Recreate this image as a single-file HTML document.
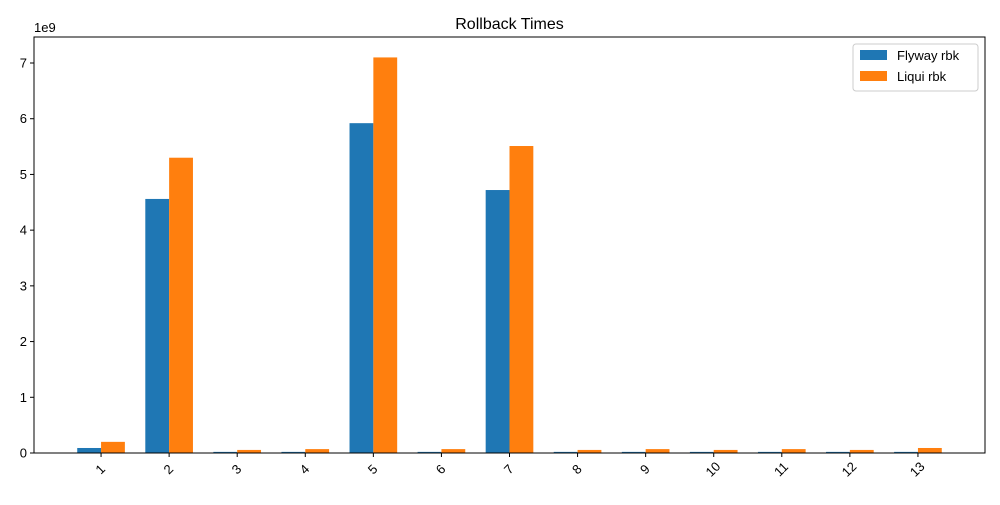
<!DOCTYPE html>
<html><head><meta charset="utf-8"><style>body{margin:0;background:#fff}svg{font-family:"Liberation Sans","DejaVu Sans",sans-serif}</style></head>
<body>
<svg id="chart" width="1000" height="500" xmlns="http://www.w3.org/2000/svg">
<rect width="1000" height="500" fill="#fff"/>
<text x="509.5" y="29" font-size="16" text-anchor="middle">Rollback Times</text>
<text x="34" y="32" font-size="13">1e9</text>
<g id="plot"></g>
<rect x="34" y="37" width="951" height="416" fill="none" stroke="#000" stroke-width="1"/>
<g>
<rect x="853" y="44" width="125" height="47" rx="3" fill="#fff" stroke="#ccc"/>
<rect x="860" y="50" width="27" height="10" fill="#1f77b4"/>
<text x="897" y="60" font-size="13">Flyway rbk</text>
<rect x="860" y="71" width="27" height="10" fill="#ff7f0e"/>
<text x="897" y="81" font-size="13">Liqui rbk</text>
</g>
</svg>
<script>
const categories=["1","2","3","4","5","6","7","8","9","10","11","12","13"];
const flyway=[0.09,4.56,0.02,0.02,5.92,0.02,4.72,0.02,0.02,0.02,0.02,0.02,0.02];
const liqui=[0.2,5.3,0.055,0.07,7.1,0.07,5.51,0.055,0.07,0.055,0.07,0.055,0.09];
const yTicks=[0,1,2,3,4,5,6,7];
const NS="http://www.w3.org/2000/svg";
const g=document.getElementById('plot');
const X0=34,X1=985,Y0=453,Y1=37;
const xmin=0.015,xmax=13.985;
const xs=v=>X0+(v-xmin)/(xmax-xmin)*(X1-X0);
const ys=v=>Y0-v*(390/7);
const bw=0.35;
function el(t,a){const e=document.createElementNS(NS,t);for(const k in a)e.setAttribute(k,a[k]);g.appendChild(e);return e;}
categories.forEach((c,i)=>{
 const x=i+1;
 const b=el('rect',{x:xs(x-bw),y:ys(flyway[i]),width:xs(x)-xs(x-bw),height:Y0-ys(flyway[i]),fill:'#1f77b4'});
 
 
 const o=el('rect',{x:xs(x),y:ys(liqui[i]),width:xs(x+bw)-xs(x),height:Y0-ys(liqui[i]),fill:'#ff7f0e'});
 
 
 const t=el('line',{x1:xs(x),x2:xs(x),y1:Y0,y2:Y0+4,stroke:'#000'});
 
 
 const px=xs(x),py=Y0+17;
 const l=el('text',{x:px,y:py,'font-size':13,'text-anchor':'middle',transform:`rotate(-45 ${px} ${py})`,'dominant-baseline':'middle'});
 l.textContent=c;
 
 
});
yTicks.forEach(v=>{
 const t=el('line',{x1:X0-4,x2:X0,y1:ys(v),y2:ys(v),stroke:'#000'});
 
 
 const l=el('text',{x:X0-7,y:ys(v)+4.5,'font-size':13,'text-anchor':'end'});
 l.textContent=v;
 
 
});
</script>
</body></html>
